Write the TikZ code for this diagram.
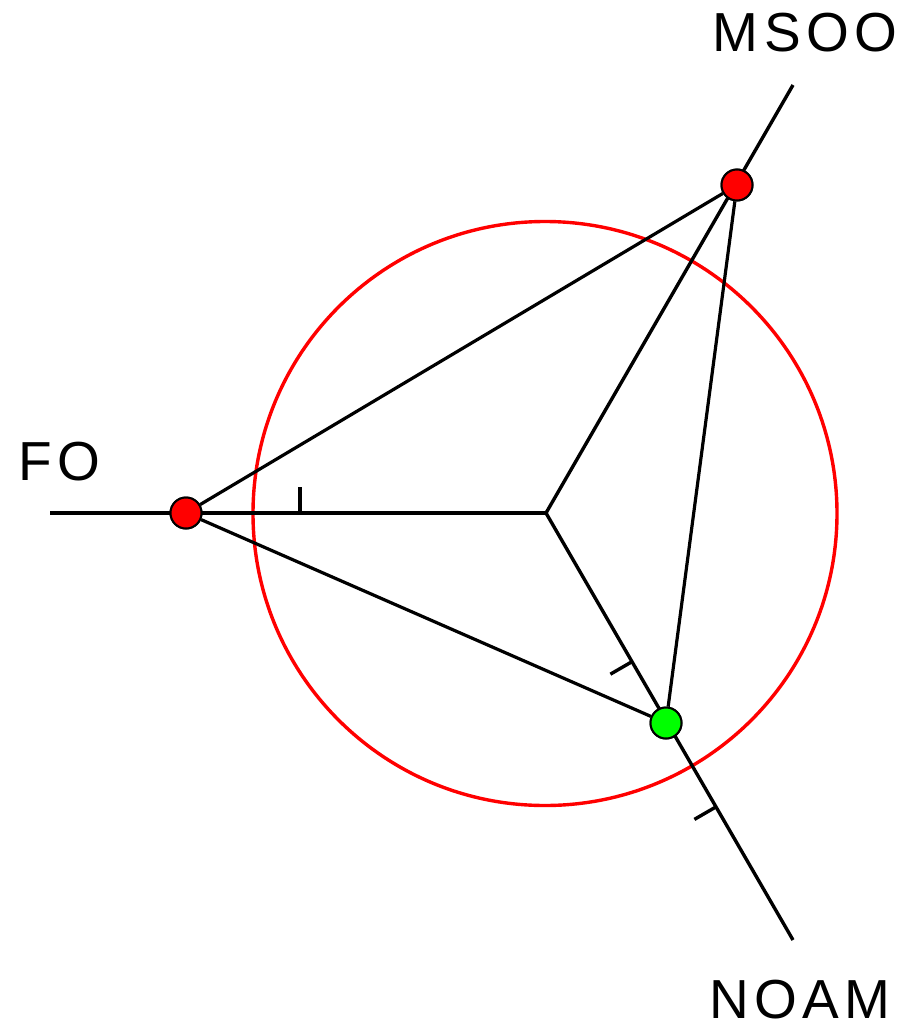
\documentclass[tikz,border=0pt]{standalone}
\usepackage{fontspec}
\usetikzlibrary{calc}
\newfontfamily\lbl{Liberation Sans}[LetterSpace=10]
\begin{document}
\begin{tikzpicture}[x=1pt,y=1pt,
  axisline/.style={line width=3.4pt,black},
  link/.style={line width=3.2pt,black},
  tick/.style={line width=3.4pt,black},
  dot/.style={circle,draw=black,line width=2pt,minimum size=31pt,inner sep=0pt},
  reddot/.style={dot,fill=red},
  greendot/.style={dot,fill=green},
  lab/.style={inner sep=0pt,font=\lbl\fontsize{55}{55}\selectfont}]
\useasboundingbox (0,0) rectangle (899,-1028);
% axes
\coordinate (c) at (546,-513);
\coordinate (foend) at (50,-513);
\coordinate (msend) at (793,-85);
\coordinate (noend) at (793,-940);
% circle
\draw[red,line width=3.4pt] (545,-513.5) circle[radius=292];
\draw[axisline,line width=4.8pt] (c) -- (foend);
\draw[axisline] (c) -- (msend);
\draw[axisline] (c) -- (noend);
% ticks
\coordinate (t1) at ($(c)!246/496!(foend)$);
\draw[tick] (t1) -- ++(0,26);
\coordinate (t2) at ($(c)!172/494!(noend)$);
\draw[tick] (t2) -- ++(-21.6,-12.5);
\coordinate (t3) at ($(c)!340/494!(noend)$);
\draw[tick] (t3) -- ++(-21.6,-12.5);
% points
\node[reddot] (fo) at (186,-513) {};
\node[reddot] (ms) at (737,-185) {};
\node[greendot] (no) at (666,-723) {};
\draw[link] (fo) -- (ms);
\draw[link] (fo) -- (no);
\draw[link] (ms) -- (no);
\node[reddot] at (fo) {};
\node[reddot] at (ms) {};
\node[greendot] at (no) {};
% labels
\node[lab] (folab) at (59,-462) {FO};
\node[lab] (mslab) at (805,-33) {MSOO};
\node[lab] (nolab) at (800,-1000) {NOAM};
\end{tikzpicture}
\end{document}
